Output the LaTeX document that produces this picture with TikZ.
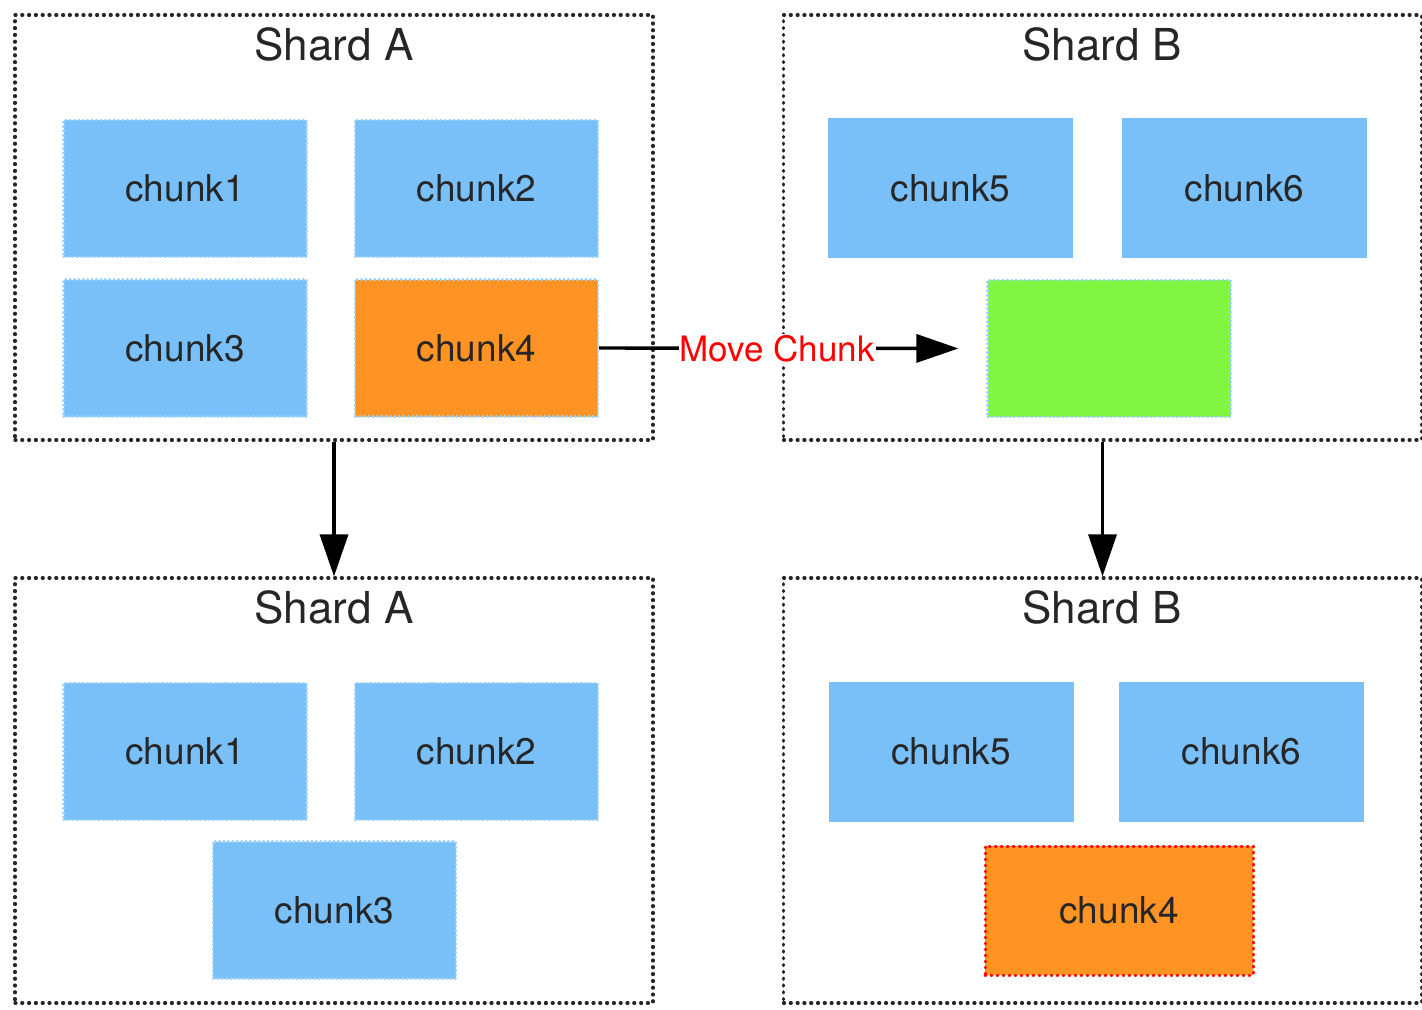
\documentclass[tikz,border=0pt]{standalone}
\usepackage{fontspec}
\setmainfont{TeX Gyre Heros}
\usetikzlibrary{arrows.meta}
\definecolor{chunkBlue}{HTML}{78C0F7}
\definecolor{chunkOrange}{HTML}{FF9424}
\definecolor{chunkGreen}{HTML}{80F542}
\definecolor{edgeBlue}{HTML}{9CD2FF}
\definecolor{textGray}{HTML}{262626}

\begin{document}
\begin{tikzpicture}[x=0.5pt, y=-0.5pt,
		shard/.style={draw=black!85, line width=1.6pt, dash pattern=on 0.5pt off 2.9pt, line cap=round,
			minimum width=319pt, minimum height=212.5pt, inner sep=0pt},
		title/.style={text=textGray, font=\fontsize{22}{26}\selectfont},
		chunk/.style={fill=chunkBlue, draw=edgeBlue, line width=1.1pt, dash pattern=on 0.4pt off 1.8pt, line cap=round,
			minimum width=121.5pt, minimum height=68.5pt, inner sep=0pt,
			text=textGray, font=\fontsize{18.5}{22}\selectfont},
		plainchunk/.style={chunk, draw=none, minimum width=122.5pt, minimum height=70pt},
		flow/.style={draw=black, line width=1.7pt, -{Triangle[length=21pt, width=14pt]}}]
	\useasboundingbox (0,0) rectangle (1422,1009);

	% Shards before the move
	\node[shard] (shardA) at (334,227.5) {};
	\node[shard] (shardB) at (1102.5,227.5) {};
	\node[title] at (334,44) {Shard A};
	\node[title] at (1102,44) {Shard B};

	% Shards after the move
	\node[shard] (shardAnew) at (334,790.5) {};
	\node[shard] (shardBnew) at (1102.5,790.5) {};
	\node[title] at (334,607) {Shard A};
	\node[title] at (1102,607) {Shard B};

	% Chunks in A (before)
	\node[chunk] (a1) at (185,188.5) {chunk1};
	\node[chunk] (a2) at (476.5,188.5) {chunk2};
	\node[chunk] (a3) at (185,348) {chunk3};
	\node[chunk, fill=chunkOrange] (a4) at (476.5,348) {chunk4};

	% Chunks in B (before)
	\node[plainchunk] (b5) at (950.5,188) {chunk5};
	\node[plainchunk] (b6) at (1244.5,188) {chunk6};
	\node[chunk, fill=chunkGreen] (slot) at (1109,348.5) {};

	% Chunks in A (after)
	\node[chunk] (na1) at (185,751.5) {chunk1};
	\node[chunk] (na2) at (476.5,751.5) {chunk2};
	\node[chunk] (na3) at (334.5,910) {chunk3};

	% Chunks in B (after)
	\node[plainchunk] (nb5) at (951,751.5) {chunk5};
	\node[plainchunk] (nb6) at (1241.5,751.5) {chunk6};
	\node[chunk, fill=chunkOrange, draw=red, line width=1.5pt, dash pattern=on 0.4pt off 2.6pt,
		minimum width=134pt, minimum height=64.5pt] (nb4) at (1119,910.5) {chunk4};

	% Arrows
	\draw[flow, shorten >=14pt] (a4.east) -- node[pos=0.46, fill=white, inner sep=0.5pt, text=red,
		font=\fontsize{17.5}{21}\selectfont] {Move Chunk} (slot.west);
	\draw[flow] (shardA.south) -- (shardAnew.north);
	\draw[flow] (shardB.south) -- (shardBnew.north);
\end{tikzpicture}
\end{document}
